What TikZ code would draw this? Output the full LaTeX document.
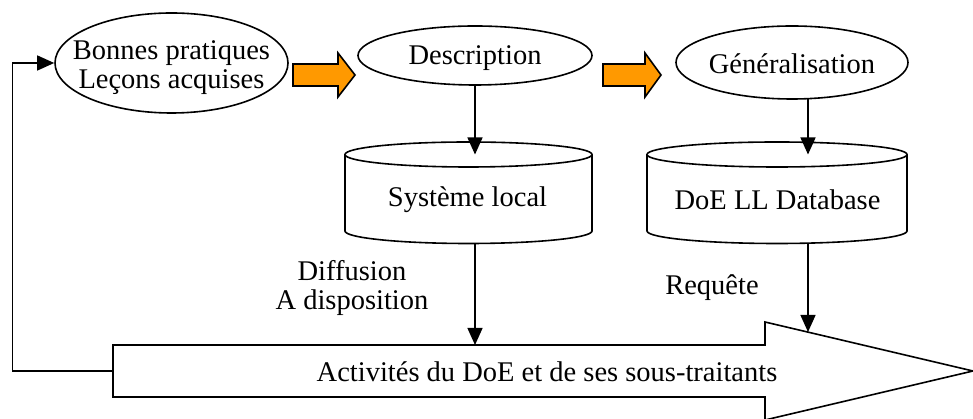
\documentclass[tikz,border=0pt]{standalone}
\usepackage{fontspec}
\setmainfont{Liberation Serif}
\usetikzlibrary{shapes.geometric,arrows.meta}
\definecolor{orangefill}{HTML}{FF9900}
\newcommand\drawcylinder[5]{%
  \draw[cylline] (#1-#2,#3) -- (#1-#2,#4)
     arc[start angle=180,end angle=360,x radius=#2,y radius=#5]
     -- (#1+#2,#3)
     arc[start angle=0,end angle=180,x radius=#2,y radius=#5] -- cycle;
  \draw[cylline] (#1-#2,#3) arc[start angle=180,end angle=360,x radius=#2,y radius=#5];
}
\begin{document}
\begin{tikzpicture}[x=1pt,y=1pt,line width=1.6pt,
  font=\fontsize{28.5}{29}\selectfont,
  bubble/.style={ellipse, draw, inner sep=0pt, fill=white, line width=1.6pt},
  conn/.style={-{Triangle[width=15pt,length=17pt]}, line width=1.4pt},
  fatarrow/.style={draw, fill=orangefill, line width=1.6pt, line join=miter},
  cylline/.style={draw, line width=1.6pt, fill=white},
  bigarrow/.style={draw, fill=white, line width=1.6pt, line join=miter},
  lbl/.style={inner sep=0pt, align=center}]
\useasboundingbox (0,0) rectangle (973,419);

% ellipses
\node[bubble, minimum width=233pt, minimum height=100pt] (bp) at (171.5,356) {};
\node[lbl] (bpt) at (171.5,351) {Bonnes pratiques\\Leçons acquises};
\node[bubble, minimum width=234pt, minimum height=59pt] (desc) at (475,363.5) {};
\node[lbl] (desct) at (475,361) {Description};
\node[bubble, minimum width=232pt, minimum height=73pt] (gen) at (792,356.5) {};
\node[lbl] (gent) at (792,355) {Généralisation};

% orange arrows
\draw[fatarrow] (293,355) -- (338,355) -- (338,366) -- (355,344) -- (338,322) -- (338,333) -- (293,333) -- cycle;
\draw[fatarrow] (603,355) -- (645,355) -- (645,366) -- (661,344) -- (645,322) -- (645,333) -- (603,333) -- cycle;

% cylinders
\drawcylinder{468.5}{123.5}{264.5}{188}{12.5}
\drawcylinder{777}{130}{264.5}{188}{12.5}
\node[lbl] (sys) at (467.5,219) {Système local};
\node[lbl] (db) at (777.5,219) {DoE LL Database};
\coordinate (sysT) at (475,264.5);
\coordinate (sysB) at (475,175.5);
\coordinate (dbT) at (808,264.5);
\coordinate (dbB) at (808,175.8);
\coordinate (genB) at (808,320.3);

% big arrow
\draw[bigarrow] (113,74) -- (765,74) -- (765,97) -- (973,48) -- (765,-1) -- (765,22) -- (113,22) -- cycle;
\node[lbl] (act) at (547,47) {Activités du DoE et de ses sous-traitants};
\coordinate (actL) at (113,48);
\coordinate (actT1) at (475,74);
\coordinate (actT2) at (808,87);

% labels
\node[lbl] (diff) at (352,131) {Diffusion\\A disposition};
\node[lbl] (req) at (712,131) {Requête};

% connectors
\draw[conn] (desc.south) -- (sysT);
\draw[conn] (genB) -- (dbT);
\draw[conn] (sysB) -- (actT1);
\draw[conn] (dbB) -- (actT2);
\draw[conn] (actL) -| ([xshift=-42pt]bp.west) -- (bp.west);
\end{tikzpicture}
\end{document}
